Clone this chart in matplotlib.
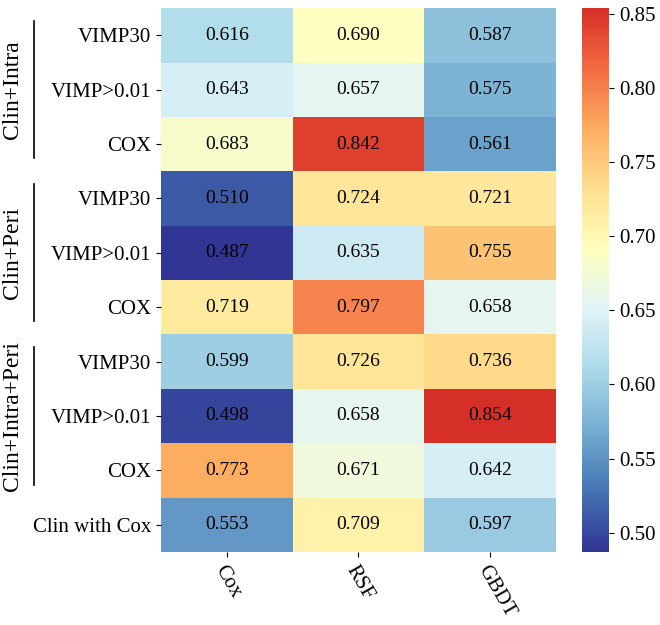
import matplotlib
matplotlib.use("Agg")
import matplotlib.pyplot as plt
from matplotlib.colors import LinearSegmentedColormap
import numpy as np

rows = ["VIMP30", "VIMP>0.01", "COX", "VIMP30", "VIMP>0.01", "COX",
        "VIMP30", "VIMP>0.01", "COX", "Clin with Cox"]
cols = ["Cox", "RSF", "GBDT"]
cox = [0.616, 0.643, 0.683, 0.510, 0.487, 0.719, 0.599, 0.498, 0.773, 0.553]
rsf = [0.690, 0.657, 0.842, 0.724, 0.635, 0.797, 0.726, 0.658, 0.671, 0.709]
gbdt = [0.587, 0.575, 0.561, 0.721, 0.755, 0.658, 0.736, 0.854, 0.642, 0.597]
groups = ["Clin+Intra", "Clin+Peri", "Clin+Intra+Peri"]
group_rows = [(0, 3), (3, 6), (6, 9)]

plt.rcParams['font.family'] = ['Liberation Serif', 'DejaVu Serif']

base = plt.get_cmap("RdYlBu_r")
cmap = LinearSegmentedColormap.from_list("trunc", base(np.linspace(0, 0.9, 256)))

data = np.array([cox, rsf, gbdt]).T
fig = plt.figure(figsize=(6.6, 6.25), dpi=100)
ax = fig.add_axes([0.244, 0.117, 0.598, 0.870])
cax = fig.add_axes([0.882, 0.117, 0.041, 0.870])

vmin, vmax = data.min(), data.max()
mesh = ax.pcolormesh(np.arange(len(cols) + 1), np.arange(len(rows) + 1), data,
                     cmap=cmap, vmin=vmin, vmax=vmax)
ax.set_xlim(0, len(cols))
ax.set_ylim(len(rows), 0)
for i in range(len(rows)):
    for j in range(len(cols)):
        ax.text(j + 0.5, i + 0.5, f"{data[i, j]:.3f}", ha="center", va="center",
                fontsize=14, color="black")
for s in ax.spines.values():
    s.set_visible(False)
ax.set_xticks(np.arange(len(cols)) + 0.5)
ax.set_xticklabels(cols, rotation=-60, ha="left", va="top", rotation_mode="anchor",
                   fontsize=15)
ax.set_yticks(np.arange(len(rows)) + 0.5)
ax.set_yticklabels(rows, fontsize=15)

cb = fig.colorbar(mesh, cax=cax)
cb.set_ticks([0.50, 0.55, 0.60, 0.65, 0.70, 0.75, 0.80, 0.85])
cb.ax.tick_params(labelsize=15)
cb.outline.set_visible(False)

# group labels and lines
for name, (r0, r1) in zip(groups, group_rows):
    y0 = ax.transData.transform((0, r0))[1]
    y1 = ax.transData.transform((0, r1))[1]
    fy0 = y0 / fig.bbox.height
    fy1 = y1 / fig.bbox.height
    inset = 13 / fig.bbox.height
    xl = 33.5 / fig.bbox.width
    fig.add_artist(plt.Line2D([xl, xl], [fy0 - inset, fy1 + inset], color="black",
                              lw=1.2, transform=fig.transFigure))
    fig.text(13 / fig.bbox.width, (fy0 + fy1) / 2, name, rotation=90,
             ha="center", va="center", fontsize=17)

fig.savefig("out.png", dpi=100)
